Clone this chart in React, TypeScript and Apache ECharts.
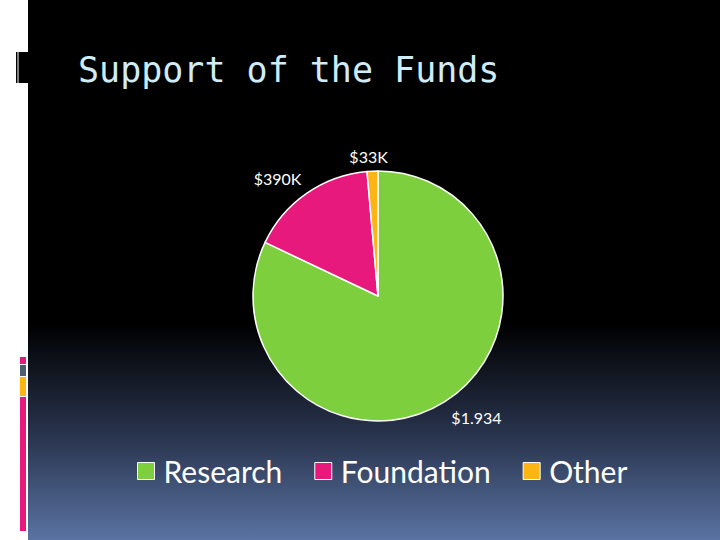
import React, { useEffect, useRef } from "react";
import * as echarts from "echarts";

const categories = ["Research", "Foundation", "Other"];
const values = [1934, 390, 33];
const labelTexts = ["$1.934", "$390K", "$33K"];
const colors = ["#7ecf3e", "#e8197d", "#fdb515"];
const titleText = "Support of the Funds";

export default function App() {
  const ref = useRef<HTMLDivElement>(null);
  useEffect(() => {
    document.body.style.margin = "0";
    const chart = echarts.init(ref.current!, null, { renderer: "svg" });
    const labelShift = [
      { dx: -7, dy: 2 },
      { dx: 9, dy: -2 },
      { dx: 21, dy: 1 },
    ];
    chart.setOption({
      animation: false,
      backgroundColor: {
        type: "linear",
        x: 0,
        y: 0,
        x2: 0,
        y2: 1,
        colorStops: [
          { offset: 0, color: "#000000" },
          { offset: 0.6, color: "#000000" },
          { offset: 0.8, color: "#27324b" },
          { offset: 1, color: "#5a73a2" },
        ],
      },
      title: {
        text: titleText,
        left: 78,
        top: 52,
        padding: 0,
        textStyle: {
          fontFamily: "DejaVu Sans Mono",
          fontSize: 35,
          fontWeight: "normal",
          color: "#d0ecf8",
        },
      },
      graphic: [
        { type: "rect", shape: { x: 0, y: 0, width: 28, height: 540 }, style: { fill: "#ffffff" } },
        { type: "rect", shape: { x: 16, y: 52, width: 12, height: 31 }, style: { fill: "#000000" } },
        { type: "rect", shape: { x: 17.5, y: 52, width: 1, height: 31 }, style: { fill: "#ffffff" } },
        { type: "rect", shape: { x: 20, y: 357, width: 6, height: 7 }, style: { fill: "#e8197d" } },
        { type: "rect", shape: { x: 20, y: 365, width: 6, height: 11 }, style: { fill: "#4f5d73" } },
        { type: "rect", shape: { x: 20, y: 377, width: 6, height: 19 }, style: { fill: "#fdb515" } },
        { type: "rect", shape: { x: 20, y: 397, width: 6, height: 134 }, style: { fill: "#e8197d" } },
      ],
      legend: {
        data: categories,
        left: 137,
        top: 455,
        padding: 0,
        icon: "rect",
        itemWidth: 17,
        itemHeight: 17,
        itemGap: 32,
        itemStyle: { borderColor: "#ffffff", borderWidth: 1 },
        textStyle: {
          fontFamily: "Lato",
          fontSize: 30,
          color: "#ffffff",
          lineHeight: 32,
          padding: [0, 0, 0, 4],
        },
      },
      series: [
        {
          type: "pie",
          center: [378, 296],
          radius: 125,
          startAngle: 90,
          clockwise: true,
          data: categories.map((name, i) => ({
            name,
            value: values[i],
            itemStyle: { color: colors[i] },
          })),
          itemStyle: { borderColor: "#ffffff", borderWidth: 1.5 },
          label: {
            show: true,
            position: "outside",
            formatter: (p: any) => labelTexts[p.dataIndex],
            fontFamily: "Lato",
            fontSize: 16,
            color: "#ffffff",
          },
          labelLine: { show: false, length: 16, length2: 0 },
          labelLayout: (p: any) => labelShift[p.dataIndex],
          emphasis: { disabled: true },
        },
      ],
    });
    return () => chart.dispose();
  }, []);
  return <div ref={ref} style={{ width: 720, height: 540 }} />;
}
